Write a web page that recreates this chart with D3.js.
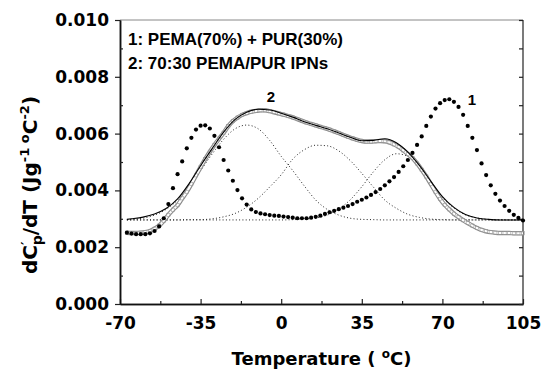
<!DOCTYPE html>
<html>
<head>
<meta charset="utf-8">
<script src="https://cdn.jsdelivr.net/npm/d3@7"></script>
<style>
  body { margin: 0; background: #fff; }
  svg { display: block; }
</style>
</head>
<body>
<script>
// temperature grid of the measured curves (every 2 degC)
const tempFine = [-67,-65,-63,-61,-59,-57,-55,-53,-51,-49,-47,-45,-43,-41,-39,-37,-35,-33,-31,-29,
  -27,-25,-23,-21,-19,-17,-15,-13,-11,-9,-7,-5,-3,-1,1,3,5,7,9,11,13,15,17,19,21,23,25,27,29,31,
  33,35,37,39,41,43,45,47,49,51,53,55,57,59,61,63,65,67,69,71,73,75,77,79,81,83,85,87,89,91,93,95,
  97,99,101,103,105];

// 1: PEMA(70%) + PUR(30%)
const blend = [.00251,.00248,.00246,.00246,.00246,.00249,.00257,.00273,.00302,.00352,.00408,.00457,
  .00502,.00548,.00585,.00614,.00628,.00629,.00618,.00592,.00552,.00507,.00470,.00434,.00401,.00372,
  .00350,.00333,.00324,.00319,.00316,.00313,.00311,.00310,.00308,.00306,.00304,.00302,.00302,.00302,
  .00304,.00307,.00311,.00317,.00323,.00328,.00334,.00339,.00345,.00352,.00360,.00367,.00375,.00384,
  .00394,.00405,.00418,.00432,.00447,.00465,.00485,.00507,.00532,.00560,.00590,.00627,.00660,.00688,
  .00707,.00718,.00721,.00712,.00694,.00666,.00627,.00585,.00542,.00495,.00454,.00418,.00388,.00364,
  .00345,.00328,.00314,.00303,.00294];

// 2: 70:30 PEMA/PUR IPNs
const ipn = [.00251,.00250,.00250,.00251,.00253,.00257,.00265,.00276,.00293,.00314,.00332,.00348,
  .00372,.00395,.00423,.00453,.00482,.00510,.00536,.00560,.00582,.00603,.00626,.00644,.00656,.00666,
  .00672,.00677,.00680,.00682,.00682,.00679,.00675,.00671,.00667,.00662,.00657,.00651,.00645,.00639,
  .00634,.00629,.00624,.00619,.00614,.00608,.00602,.00595,.00589,.00583,.00578,.00574,.00572,.00572,
  .00573,.00574,.00573,.00569,.00562,.00553,.00541,.00528,.00514,.00495,.00473,.00449,.00422,.00395,
  .00370,.00349,.00333,.00318,.00306,.00295,.00285,.00276,.00268,.00261,.00256,.00253,.00251,.00250,
  .00250,.00250,.00249,.00249,.00249];

// grid of the fitted curve and its three peaks (every 5 degC)
const tempFit = [-67,-65,-60,-55,-50,-45,-40,-35,-30,-25,-20,-15,-10,-5,0,5,10,15,20,25,30,35,40,45,
  50,55,60,65,70,75,80,85,90,95,100,105];

const fit = [.00298,.00300,.00306,.00317,.00336,.00370,.00424,.00487,.00547,.00605,.00650,.00675,
  .00686,.00683,.00672,.00658,.00642,.00629,.00617,.00602,.00587,.00575,.00576,.00582,.00568,.00535,
  .00488,.00432,.00378,.00340,.00315,.00303,.00298,.00296,.00296,.00296];

const peakA = [.00297,.00298,.00302,.00313,.00333,.00366,.00416,.00470,.00528,.00580,.00617,.00630,
  .00617,.00576,.00520,.00470,.00416,.00366,.00333,.00313,.00302,.00298,.00297,.00296,.00296,.00296,
  .00296,.00296,.00296,.00296,.00296,.00296,.00296,.00296,.00296,.00296];

const peakB = [.00296,.00296,.00296,.00296,.00296,.00296,.00297,.00297,.00300,.00307,.00319,.00341,
  .00372,.00412,.00455,.00510,.00543,.00559,.00557,.00539,.00505,.00460,.00412,.00366,.00337,.00316,
  .00305,.00299,.00297,.00296,.00296,.00296,.00296,.00296,.00296,.00296];

const peakC = [.00296,.00296,.00296,.00296,.00296,.00296,.00296,.00296,.00296,.00296,.00296,.00296,
  .00296,.00296,.00296,.00297,.00299,.00303,.00313,.00334,.00367,.00413,.00465,.00508,.00529,.00520,
  .00484,.00428,.00375,.00338,.00314,.00303,.00298,.00297,.00296,.00296];

const xTicks = [-70, -35, 0, 35, 70, 105];
const xMinor = [-52.5, -17.5, 17.5, 52.5, 87.5];
const yTicks = [0, .002, .004, .006, .008, .010];
const yMinor = [.001, .003, .005, .007, .009];
const legendLines = ["1: PEMA(70%) + PUR(30%)", "2: 70:30 PEMA/PUR IPNs"];

const W = 553, H = 371;
const margin = {top: 20, right: 30, bottom: 67, left: 120};

const svg = d3.select("body").append("svg")
  .attr("width", W).attr("height", H);

const x = d3.scaleLinear().domain([-70, 105]).range([margin.left, W - margin.right]);
const y = d3.scaleLinear().domain([0, 0.010]).range([H - margin.bottom, margin.top]);

const tickFont = "'DejaVu Sans', sans-serif";
const textFont = "'Liberation Sans', Arial, sans-serif";

// frame (top and right a bit lighter, like the scan)
svg.append("line").attr("x1", x(-70)).attr("x2", x(105)).attr("y1", y(0.010)).attr("y2", y(0.010))
  .attr("stroke", "#888").attr("stroke-width", 1);
svg.append("line").attr("x1", x(105)).attr("x2", x(105)).attr("y1", y(0.010)).attr("y2", y(0))
  .attr("stroke", "#333").attr("stroke-width", 1.3);

// axes
const gx = svg.append("g").attr("transform", `translate(0,${y(0)})`)
  .call(d3.axisBottom(x).tickValues(xTicks).tickSizeInner(-5).tickSizeOuter(0).tickPadding(13)
    .tickFormat(d => String(d)));
svg.append("g").attr("transform", `translate(0,${y(0)})`)
  .call(d3.axisBottom(x).tickValues(xMinor).tickSizeInner(-3).tickSizeOuter(0).tickFormat(""));

const gy = svg.append("g").attr("transform", `translate(${x(-70)},0)`)
  .call(d3.axisLeft(y).tickValues(yTicks).tickSizeInner(5).tickSizeOuter(0).tickPadding(6)
    .tickFormat(d3.format(".3f")));
svg.append("g").attr("transform", `translate(${x(-70)},0)`)
  .call(d3.axisLeft(y).tickValues(yMinor).tickSizeInner(-3).tickSizeOuter(0).tickFormat(""));
svg.append("g").attr("transform", `translate(${x(105)},0)`)
  .call(d3.axisRight(y).tickValues(yMinor.concat(yTicks)).tickSizeInner(-4).tickSizeOuter(0).tickFormat(""))
  .select(".domain").remove();

svg.selectAll(".domain").attr("stroke", "#111").attr("stroke-width", 1.5);
svg.selectAll(".tick line").attr("stroke", "#222").attr("stroke-width", 1.2);
svg.selectAll(".tick text")
  .style("font-family", tickFont).style("font-weight", "bold").style("font-size", "17px")
  .attr("fill", "#000");
gx.selectAll(".tick text").attr("dy", "0.71em");

// fitted peaks (thin dotted)
const lineFit = d3.line().x((d, i) => x(tempFit[i])).y(d => y(d)).curve(d3.curveMonotoneX);
const plot = svg.append("g");
[peakA, peakB, peakC].forEach(p => {
  plot.append("path").attr("d", lineFit(p))
    .attr("fill", "none").attr("stroke", "#222").attr("stroke-width", 1)
    .attr("stroke-dasharray", "1,2.3");
});

// curve 2: dense open markers, drawn as a hollow band
const lineIpn = d3.line().x((d, i) => x(tempFine[i])).y(d => y(d)).curve(d3.curveMonotoneX);
plot.append("path").attr("d", lineIpn(ipn))
  .attr("fill", "none").attr("stroke", "#8a8a8a").attr("stroke-width", 4.4);
plot.append("path").attr("d", lineIpn(ipn))
  .attr("fill", "none").attr("stroke", "#fff").attr("stroke-width", 2.2);
plot.append("g").selectAll("rect").data(ipn).join("rect")
  .attr("x", (d, i) => x(tempFine[i]) - 1.6).attr("y", d => y(d) - 1.6)
  .attr("width", 3.2).attr("height", 3.2)
  .attr("fill", "none").attr("stroke", "#999").attr("stroke-width", 0.6);

// fitted sum (thin solid)
plot.append("path").attr("d", lineFit(fit))
  .attr("fill", "none").attr("stroke", "#000").attr("stroke-width", 1.1);

// curve 1: filled dots
plot.append("g").selectAll("circle").data(blend).join("circle")
  .attr("cx", (d, i) => x(tempFine[i])).attr("cy", d => y(d)).attr("r", 2.1)
  .attr("fill", "#000");

// curve labels
svg.append("text").attr("x", 472).attr("y", 105).attr("text-anchor", "middle")
  .style("font-family", textFont).style("font-weight", "bold").style("font-size", "15px").text("1");
svg.append("text").attr("x", 271).attr("y", 102).attr("text-anchor", "middle")
  .style("font-family", textFont).style("font-weight", "bold").style("font-size", "15px").text("2");

// legend text
svg.append("g").selectAll("text").data(legendLines).join("text")
  .attr("x", 128).attr("y", (d, i) => 45 + i * 23.5)
  .style("font-family", textFont).style("font-weight", "bold").style("font-size", "17px")
  .text(d => d);

// x title
const xt = svg.append("text").attr("x", (x(-70) + x(105)) / 2).attr("y", 365)
  .attr("text-anchor", "middle")
  .style("font-family", tickFont).style("font-weight", "bold").style("font-size", "18px");
xt.append("tspan").text("Temperature ( ");
xt.append("tspan").attr("dy", -7).style("font-size", "12px").text("o");
xt.append("tspan").attr("dy", 7).text("C)");

// y title
const yt = svg.append("text").attr("transform", "translate(37,185) rotate(-90)")
  .attr("text-anchor", "middle")
  .style("font-family", tickFont).style("font-weight", "bold").style("font-size", "20px");
yt.append("tspan").text("dC");
yt.append("tspan").attr("dy", -6).style("font-size", "14px").text("\u2032");
yt.append("tspan").attr("dx", -4).attr("dy", 11).style("font-size", "14px").text("p");
yt.append("tspan").attr("dy", -5).text("/dT (Jg");
yt.append("tspan").attr("dy", -8).style("font-size", "13px").text("-1");
yt.append("tspan").attr("dy", 0).style("font-size", "13px").text(" o");
yt.append("tspan").attr("dy", 8).text("C");
yt.append("tspan").attr("dy", -8).style("font-size", "13px").text("-2");
yt.append("tspan").attr("dy", 8).text(")");
</script>
</body>
</html>
